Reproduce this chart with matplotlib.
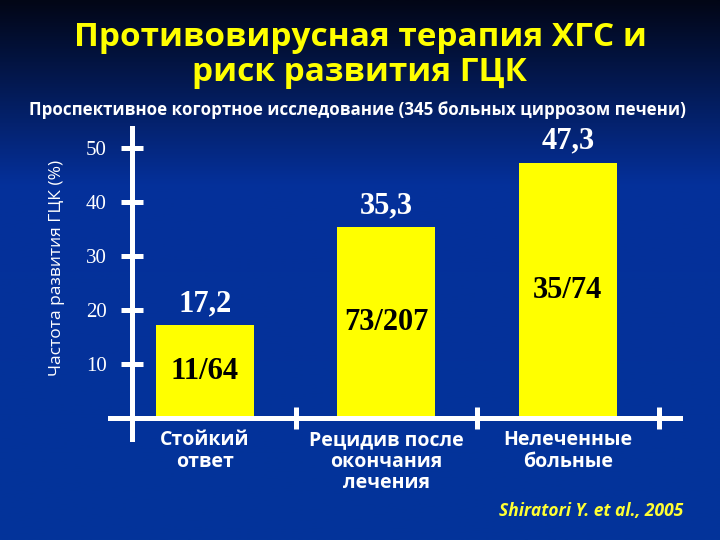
import numpy as np
import matplotlib.pyplot as plt
from matplotlib.colors import LinearSegmentedColormap

# ###############
# Data
categories = ['Стойкий\nответ', 'Рецидив после\nокончания\nлечения', 'Нелеченные\nбольные']
rates = [17.2, 35.3, 47.3]            # % HCC
events = [11, 73, 35]
totals = [64, 207, 74]
yticks = [10, 20, 30, 40, 50]

title = 'Противовирусная терапия ХГС и\nриск развития ГЦК'
subtitle = 'Проспективное когортное исследование (345 больных циррозом печени)'
ylabel = 'Частота развития ГЦК (%)'
source = 'Shiratori Y. et al., 2005'

# ###############
# Figure + gradient background
fig = plt.figure(figsize=(7.2, 5.4), dpi=100)
bg = fig.add_axes([0, 0, 1, 1])
bg.set_axis_off()
cmap_bg = LinearSegmentedColormap.from_list('bg', [(0, '#020616'), (0.34, '#05309a'), (1, '#03349a')])
grad = np.linspace(0, 1, 256).reshape(-1, 1)
bg.imshow(grad, aspect='auto', cmap=cmap_bg, extent=[0, 1, 0, 1], origin='upper')

ax = fig.add_axes([110/720, 101/540, 570/720, 311/540])
ax.patch.set_alpha(0)

x = np.arange(len(categories))
bars = ax.bar(x, rates, width=0.54, color='#ffff00', zorder=1)

ax.set_xlim(-0.523, 2.617)
ax.set_ylim(-3.9, 53.7)

# axis lines styled like the slide
for s in ['top', 'right']:
    ax.spines[s].set_visible(False)
ax.spines['left'].set_position(('data', -0.4))
ax.spines['bottom'].set_position(('data', 0))
for s in ['left', 'bottom']:
    ax.spines[s].set_color('white')
    ax.spines[s].set_linewidth(3.6)
    ax.spines[s].set_zorder(3)

ax.set_yticks(yticks)
ax.set_yticklabels([str(t) for t in yticks])
ax.tick_params(axis='y', direction='inout', length=16.5, width=3.6, color='white',
               labelcolor='white', labelsize=15, pad=10)
for lab in ax.get_yticklabels():
    lab.set_family('Liberation Serif')

ax.set_xticks(x + 0.5)
ax.set_xticklabels([])
ax.set_xticks(x, minor=True)
ax.set_xticklabels(categories, minor=True, color='white', fontsize=14,
                   fontweight='bold', family='Open Sans', linespacing=1.1)
ax.tick_params(axis='x', which='major', direction='inout', length=16.5, width=3.6, color='white')
ax.tick_params(axis='x', which='minor', length=0, pad=9)

# value labels above bars and counts inside
ax.bar_label(bars, labels=[f'{v:.1f}'.replace('.', ',') for v in rates], padding=5,
             color='white', fontsize=22, fontweight='bold', family='Liberation Serif')
ax.bar_label(bars, labels=[f'{e}/{t}' for e, t in zip(events, totals)], label_type='center',
             color='black', fontsize=22, fontweight='bold', family='Liberation Serif')

# ###############
# Texts
fig.text(0.5, 1 - 55/540, title, ha='center', va='center', color='#ffff00',
         fontsize=24, fontweight='bold', family='Open Sans', linespacing=1.05)
fig.text(0.497, 1 - 110/540, subtitle, ha='center', va='center', color='white',
         fontsize=12.2, fontweight='bold', family='Open Sans')
fig.text(57/720, 1 - 268/540, ylabel, ha='center', va='center', rotation=90,
         color='white', fontsize=12.5, family='Open Sans')
fig.text(591/720, 1 - 511/540, source, ha='center', va='center', color='#ffff33',
         fontsize=12.5, fontweight='bold', style='italic', family='Open Sans')

fig.savefig('out.png', dpi=100, facecolor='#03349a')
